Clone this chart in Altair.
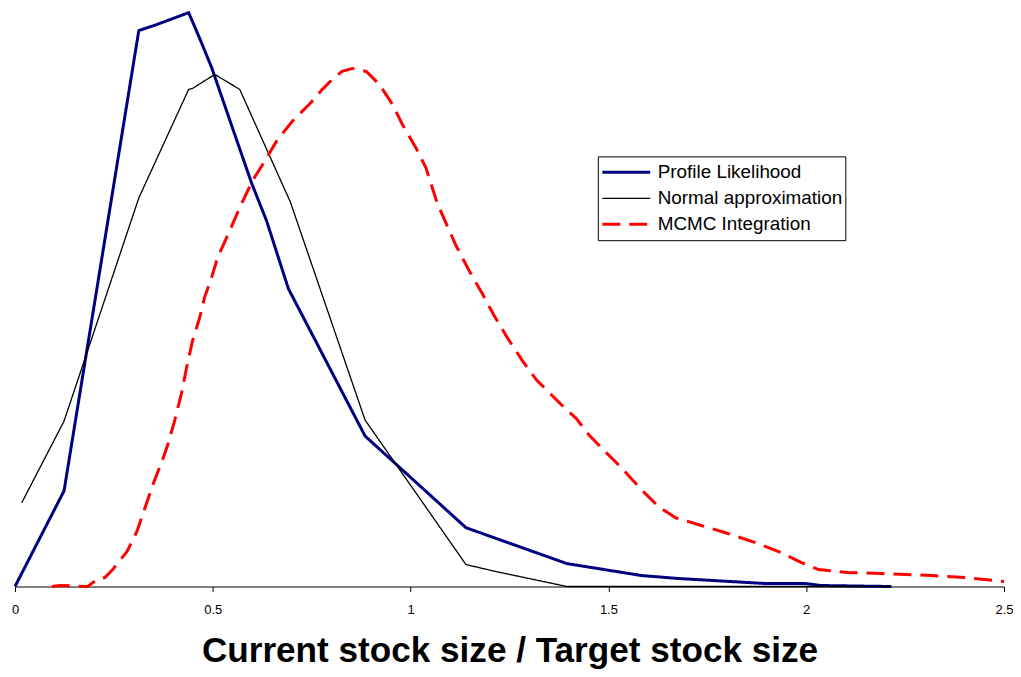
import altair as alt
import pandas as pd

# ---- data ----
series_names = ["Profile Likelihood", "Normal approximation", "MCMC Integration"]

profile_x = [0, 0.124, 0.313, 0.358, 0.439, 0.467, 0.497, 0.550, 0.598, 0.636,
             0.691, 0.885, 1.140, 1.395, 1.584, 1.678, 1.897, 1.998, 2.038, 2.215]
profile_y = [0, 0.96, 5.58, 5.64, 5.76, 5.50, 5.21, 4.60, 4.05, 3.67,
             2.99, 1.51, 0.59, 0.23, 0.11, 0.08, 0.03, 0.03, 0.01, 0.0]

normal_x = [0.017, 0.124, 0.313, 0.439, 0.449, 0.505, 0.568, 0.696, 0.885,
            1.140, 1.216, 1.395, 2.215]
normal_y = [0.84, 1.66, 3.90, 4.99, 5.00, 5.14, 4.99, 3.86, 1.67,
            0.22, 0.15, 0.00, 0.00]

mcmc_x = [0.093, 0.114, 0.184, 0.207, 0.227, 0.247, 0.283, 0.308, 0.333, 0.353,
          0.371, 0.386, 0.404, 0.421, 0.434, 0.449, 0.467, 0.479, 0.497, 0.512,
          0.537, 0.568, 0.600, 0.636, 0.661, 0.701, 0.744, 0.777, 0.802, 0.827,
          0.853, 0.888, 0.921, 0.954, 0.979, 1.014, 1.039, 1.067, 1.115, 1.148,
          1.181, 1.211, 1.244, 1.282, 1.319, 1.357, 1.395, 1.418, 1.451, 1.483,
          1.526, 1.584, 1.627, 1.670, 1.728, 1.796, 1.872, 1.937, 1.988, 2.031,
          2.106, 2.190, 2.316, 2.402, 2.500]
mcmc_y = [0.00, 0.01, 0.00, 0.07, 0.09, 0.17, 0.35, 0.55, 0.84, 1.07,
          1.25, 1.42, 1.67, 1.94, 2.20, 2.47, 2.70, 2.90, 3.10, 3.30,
          3.52, 3.80, 4.07, 4.30, 4.47, 4.67, 4.84, 4.99, 5.09, 5.17,
          5.20, 5.17, 5.04, 4.84, 4.64, 4.40, 4.20, 3.85, 3.42, 3.17,
          2.94, 2.72, 2.50, 2.27, 2.07, 1.92, 1.77, 1.69, 1.52, 1.39,
          1.22, 0.97, 0.80, 0.69, 0.62, 0.54, 0.44, 0.34, 0.24, 0.17,
          0.14, 0.13, 0.11, 0.09, 0.05]

x_ticks = [0, 0.5, 1, 1.5, 2, 2.5]

rows = []
for name, xs, ys in [(series_names[0], profile_x, profile_y),
                     (series_names[1], normal_x, normal_y),
                     (series_names[2], mcmc_x, mcmc_y)]:
    for i, (xv, yv) in enumerate(zip(xs, ys)):
        rows.append({"series": name, "x": xv, "y": yv, "i": i})
df = pd.DataFrame(rows)

legend = alt.Legend(
    title=None,
    orient="none",
    legendX=584,
    legendY=148,
    symbolType="stroke",
    symbolSize=2304,
    clipHeight=26,
    rowPadding=0,
    padding=3,
    labelOffset=6,
    labelFont="Liberation Sans",
    labelFontSize=18.9,
    labelColor="#000000",
    labelLimit=400,
    strokeColor="#000000",
    fillColor="#FFFFFF",
)

chart = alt.Chart(df).mark_line(interpolate="linear").encode(
    x=alt.X("x:Q",
            scale=alt.Scale(domain=[0, 2.5], nice=False, zero=False),
            axis=alt.Axis(
                values=x_ticks,
                format="~g",
                title="Current stock size / Target stock size",
                titleFont="Liberation Sans",
                titleFontSize=35.2,
                titleFontWeight="bold",
                titleColor="#000000",
                titleBaseline="alphabetic",
                titleY=75,
                labelFont="Liberation Sans",
                labelFontSize=13,
                labelColor="#000000",
                labelBaseline="alphabetic",
                labelPadding=22,
                labelFlush=False,
                tickSize=5,
                tickColor="#000000",
                domainColor="#000000",
                domainWidth=1,
                grid=False,
            )),
    y=alt.Y("y:Q", scale=alt.Scale(domain=[0, 5.8], nice=False), axis=None),
    order=alt.Order("x:Q"),
    color=alt.Color("series:N",
                    scale=alt.Scale(domain=series_names,
                                    range=["#000080", "#000000", "#FF0000"]),
                    sort=series_names,
                    legend=legend),
    strokeDash=alt.StrokeDash("series:N",
                              scale=alt.Scale(type="ordinal", domain=series_names,
                                              range=[[1, 0], [1, 0], [18, 9]]),
                              sort=series_names,
                              legend=legend),
    strokeWidth=alt.StrokeWidth("series:N",
                                scale=alt.Scale(type="ordinal", domain=series_names,
                                                range=[3, 1.3, 3]),
                                sort=series_names,
                                legend=legend),
).properties(
    width=991,
    height=579,
    autosize=alt.AutoSizeParams(type="none"),
    padding={"left": 7, "top": 0, "right": 9, "bottom": 82},
    background="#FFFFFF",
).configure_view(stroke="transparent")

chart.save("out.html", embed_options={"renderer": "svg", "actions": False})
